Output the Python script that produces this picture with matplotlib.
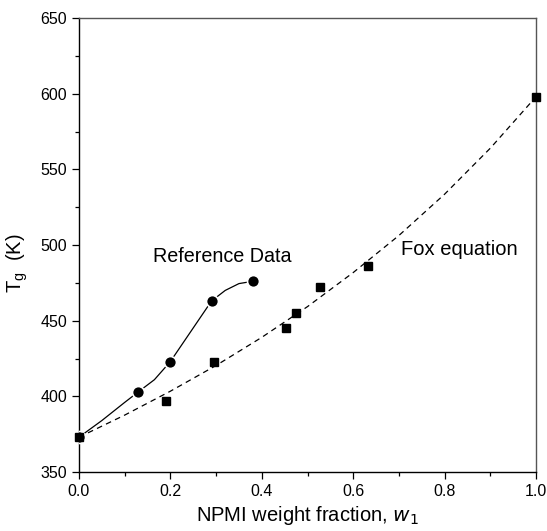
import numpy as np
import matplotlib.pyplot as plt
from matplotlib.ticker import MultipleLocator

plt.rcParams['font.family'] = ['Liberation Sans', 'DejaVu Sans']

# Tg of the copolymers (reference data, circles)
w_ref = [0.0, 0.13, 0.20, 0.29, 0.38]
tg_ref = [373, 403, 423, 463, 476]

# smooth line through the reference data
w_ref_line = [0.0, 0.05, 0.10, 0.13, 0.165, 0.20, 0.245, 0.29, 0.32, 0.35, 0.38]
tg_ref_line = [373, 384, 396, 403, 411, 423, 443, 463, 470, 474.5, 476]

# measured Tg (squares)
w_meas = [0.0, 0.19, 0.295, 0.454, 0.474, 0.528, 0.633, 1.0]
tg_meas = [373, 397, 423, 445, 455, 472, 486, 598]

# Fox equation curve
w_fox = [0.0, 0.1, 0.2, 0.3, 0.4, 0.5, 0.6, 0.7, 0.8, 0.9, 1.0]
tg_fox = [373, 387.6, 403.4, 420.4, 439.0, 459.3, 481.8, 506.3, 533.6, 564.0, 598]

fig = plt.figure(figsize=(5.47, 5.31), dpi=100)
ax = fig.add_axes([0.1444, 0.1111, 0.8356, 0.855])

ax.plot(w_fox, tg_fox, color='black', lw=0.9, ls=(0, (4.5, 3.5)))
ax.plot(w_ref_line, tg_ref_line, color='black', lw=0.9)
ax.plot(w_ref, tg_ref, 'o', color='black', ms=8.6, mec='white', mew=1.2, zorder=3)
ax.plot(w_meas, tg_meas, 's', color='black', ms=6.2, zorder=3, clip_on=False)

ax.text(0.162, 492.7, 'Reference Data', fontsize=14.2, va='center', ha='left')
ax.text(0.705, 496.7, 'Fox equation', fontsize=14.5, va='center', ha='left')

ax.set_xlim(0.0, 1.0)
ax.set_ylim(350, 650)
ax.xaxis.set_major_locator(MultipleLocator(0.2))
ax.xaxis.set_minor_locator(MultipleLocator(0.1))
ax.yaxis.set_major_locator(MultipleLocator(50))
ax.yaxis.set_minor_locator(MultipleLocator(25))
ax.set_xticklabels([f'{v:.1f}' for v in ax.get_xticks()])
ax.tick_params(which='major', direction='out', length=5, width=0.9, labelsize=11.5)
ax.tick_params(which='minor', direction='out', length=3, width=0.9)

for side in ['left', 'bottom']:
    ax.spines[side].set_linewidth(1.0)
for side in ['top', 'right']:
    ax.spines[side].set_linewidth(1.0)
    ax.spines[side].set_color('#555555')

ax.set_xlabel(r'NPMI weight fraction, $\mathit{w}_1$', fontsize=14.5, labelpad=4)
ax.set_ylabel(r'T$_\mathregular{g}$  (K)', fontsize=14.5)
ax.yaxis.set_label_coords(-0.108, 0.46)

fig.savefig('out.png', dpi=100)
